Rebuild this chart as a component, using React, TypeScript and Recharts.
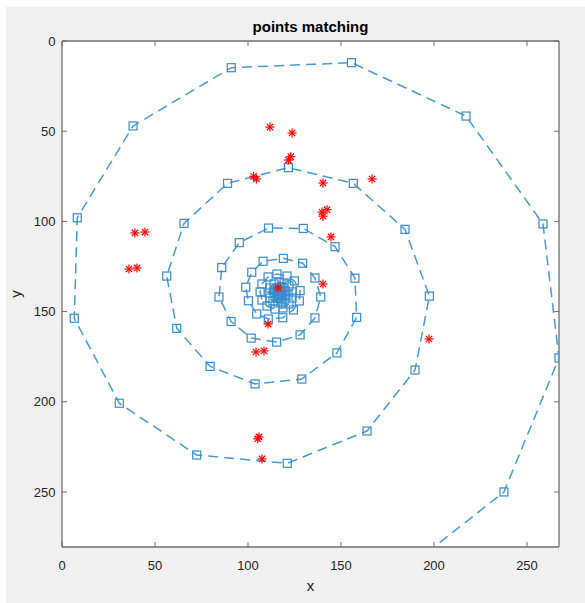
import { ScatterChart, Scatter, XAxis, YAxis, ReferenceLine } from "recharts";

// blue spiral (order matters: the dashed line joins points in this order)
const spiralX = [
  176, 237.6, 267.2, 258.6, 217.2, 155.6, 91, 38.2, 8.2, 6.6, 30.8, 72.4, 121.1,
  164, 189.8, 197.5, 184.4, 156.6, 121.7, 89, 65.6, 56.3, 61.7, 79.6, 103.8, 128.9,
  147.8, 158.4, 157.5, 146.8, 129.7, 111, 95.3, 85.9, 84.4, 90.9, 101.7, 115.4,
  128, 136, 139.1, 136, 129.4, 119, 108.1, 102, 98.8, 100.2, 104.7, 110.9, 118.7,
  124.4, 127.6, 128, 124.9, 121, 115.6, 110.8, 107.5, 106.5, 107.5, 110.2, 114.5,
  118.8, 122, 123.7, 123.7, 122, 119.4, 116.7, 114, 111.8, 111.3, 111.8, 113.4,
  116.1, 118.3, 119.9, 120.4, 119.9, 118.8, 117.2, 115.6, 114.5, 114, 114.5, 115.6,
  116.7, 117.7, 118.3, 118.3, 117.7, 116.7, 116.1, 116.1, 116.7,
];
const spiralY = [
  300, 250, 175.7, 101.4, 41.6, 12, 14.8, 47.1, 98, 153.7, 200.8, 229.5, 234.1,
  216.2, 182.4, 141.4, 104.4, 78.9, 70.2, 78.9, 101.1, 130.3, 159.3, 180.4, 190.1,
  187.4, 172.9, 153.2, 131.5, 114, 103.9, 103.7, 111.8, 125.6, 141.9, 155.5, 164.7,
  166.9, 162.9, 153.5, 141.9, 131.4, 123.2, 120.5, 122.1, 128.2, 136.5, 144, 151.3,
  154.1, 153.4, 149.1, 144.1, 138.4, 133, 130.3, 129.2, 130.8, 134.7, 139.1, 143.6,
  146.9, 148.6, 148, 145.8, 142.5, 139.1, 135.8, 134.1, 133.6, 134.7, 136.9, 139.7,
  142.5, 144.1, 145.2, 144.7, 143, 140.8, 138.6, 136.9, 136.4, 136.9, 138, 139.7,
  141.4, 142.5, 142.5, 141.9, 140.8, 139.7, 138.6, 138.6, 139.1, 140.2, 140.8,
];

// red matched points
const matchX = [
  111.8, 123.7, 123, 121.7, 103, 104.5, 140.3, 166.7, 139.8, 142.5, 140.3, 144.6,
  39.2, 44.6, 36, 40.3, 116.1, 140.3, 197.3, 110.8, 104.3, 108.6, 105.9, 105.2, 107.5,
];
const matchY = [
  47.7, 51, 64.1, 66, 75, 76.5, 78.7, 76.5, 94.8, 93.5, 97.1, 108.6,
  106.4, 105.9, 126.4, 125.8, 136.9, 134.7, 165.2, 156.9, 172.4, 171.8, 219.5, 220.5, 231.7,
];

const xTicks = [0, 50, 100, 150, 200, 250];
const yTicks = [0, 50, 100, 150, 200, 250];
const X_MAX = 267.2;
const Y_MAX = 280.5;

const spiral = spiralX.map((x, i) => ({ x, y: spiralY[i] }));
const matches = matchX.map((x, i) => ({ x, y: matchY[i] }));

const W = 585;
const H = 603;
const M = { top: 41, right: 26, bottom: 56, left: 62 };
const PW = W - M.left - M.right;
const PH = H - M.top - M.bottom;

const AX = "#6f6f6f";
const TXT = "#262626";
const BLUE = "#3a8cca";
const LINE = "#4a99d3";
const FONT = "'Liberation Sans', Arial, sans-serif";

const Square = (p: any) => (
  <rect x={p.cx - 4} y={p.cy - 4} width={8} height={8} fill="none" stroke={BLUE} strokeWidth={1.2} />
);

const Star = (p: any) => {
  const r = 4.5;
  const d = r * 0.7071;
  return (
    <g stroke="#ff0000" strokeWidth={1.2}>
      <line x1={p.cx - r} y1={p.cy} x2={p.cx + r} y2={p.cy} />
      <line x1={p.cx} y1={p.cy - r} x2={p.cx} y2={p.cy + r} />
      <line x1={p.cx - d} y1={p.cy - d} x2={p.cx + d} y2={p.cy + d} />
      <line x1={p.cx - d} y1={p.cy + d} x2={p.cx + d} y2={p.cy - d} />
    </g>
  );
};

// ticks point inward on both sides of the box
const XTick = ({ x, y, payload }: any) => (
  <g>
    <line x1={x} y1={y} x2={x} y2={y - 5} stroke={AX} />
    <line x1={x} y1={y - PH} x2={x} y2={y - PH + 5} stroke={AX} />
    <text x={x} y={y + 22.5} textAnchor="middle" fontSize={13} fill={TXT} fontFamily={FONT}>
      {payload.value}
    </text>
  </g>
);

const YTick = ({ x, y, payload }: any) => (
  <g>
    <line x1={x} y1={y} x2={x + 5} y2={y} stroke={AX} />
    <line x1={x + PW} y1={y} x2={x + PW - 5} y2={y} stroke={AX} />
    <text x={x - 6.5} y={y + 4.6} textAnchor="end" fontSize={13} fill={TXT} fontFamily={FONT}>
      {payload.value}
    </text>
  </g>
);

export default function App() {
  return (
    <div style={{ position: "absolute", left: 0, top: 0, width: W, height: H, background: "#fff" }}>
      <div style={{ position: "absolute", left: 6, top: 7, width: W - 6, height: H - 7, background: "#f0f0f0" }} />
      <div style={{ position: "absolute", left: M.left, top: M.top, width: PW, height: PH, background: "#fff" }} />
      <div
        style={{
          position: "absolute",
          left: M.left,
          top: 19.3,
          width: PW,
          textAlign: "center",
          fontFamily: FONT,
          fontWeight: "bold",
          fontSize: 15,
          lineHeight: "15px",
          color: "#000",
        }}
      >
        points matching
      </div>
      <div style={{ position: "absolute", left: 0, top: 0 }}>
        <ScatterChart width={W} height={H} margin={{ top: M.top, right: M.right, bottom: 0, left: 0 }}>
          <XAxis
            type="number"
            dataKey="x"
            domain={[0, X_MAX]}
            ticks={xTicks}
            allowDataOverflow
            height={M.bottom}
            tickSize={0}
            tickMargin={0}
            tickLine={false}
            tick={<XTick />}
            axisLine={{ stroke: AX, strokeWidth: 1.3 }}
            label={{
              content: ({ viewBox }: any) => (
                <text
                  x={viewBox.x + viewBox.width / 2}
                  y={viewBox.y + 44}
                  textAnchor="middle"
                  fontSize={15}
                  fill={TXT}
                  fontFamily={FONT}
                >
                  x
                </text>
              ),
            }}
          />
          <YAxis
            type="number"
            dataKey="y"
            domain={[0, Y_MAX]}
            ticks={yTicks}
            reversed
            allowDataOverflow
            width={M.left}
            tickSize={0}
            tickMargin={0}
            tickLine={false}
            tick={<YTick />}
            axisLine={{ stroke: AX, strokeWidth: 1.3 }}
            label={{
              content: ({ viewBox }: any) => {
                const lx = viewBox.x + viewBox.width - 41.5;
                const ly = viewBox.y + viewBox.height / 2;
                return (
                  <text
                    x={lx}
                    y={ly}
                    transform={`rotate(-90 ${lx} ${ly})`}
                    textAnchor="middle"
                    fontSize={15}
                    fill={TXT}
                    fontFamily={FONT}
                  >
                    y
                  </text>
                );
              },
            }}
          />
          <ReferenceLine y={0} stroke={AX} strokeWidth={1.3} />
          <ReferenceLine x={X_MAX} stroke={AX} strokeWidth={1.3} />
          <Scatter
            data={spiral}
            shape={Square}
            line={{ stroke: LINE, strokeWidth: 1.5, strokeDasharray: "10 6" }}
            lineType="joint"
            isAnimationActive={false}
          />
          <Scatter data={matches} shape={Star} isAnimationActive={false} />
        </ScatterChart>
      </div>
    </div>
  );
}
